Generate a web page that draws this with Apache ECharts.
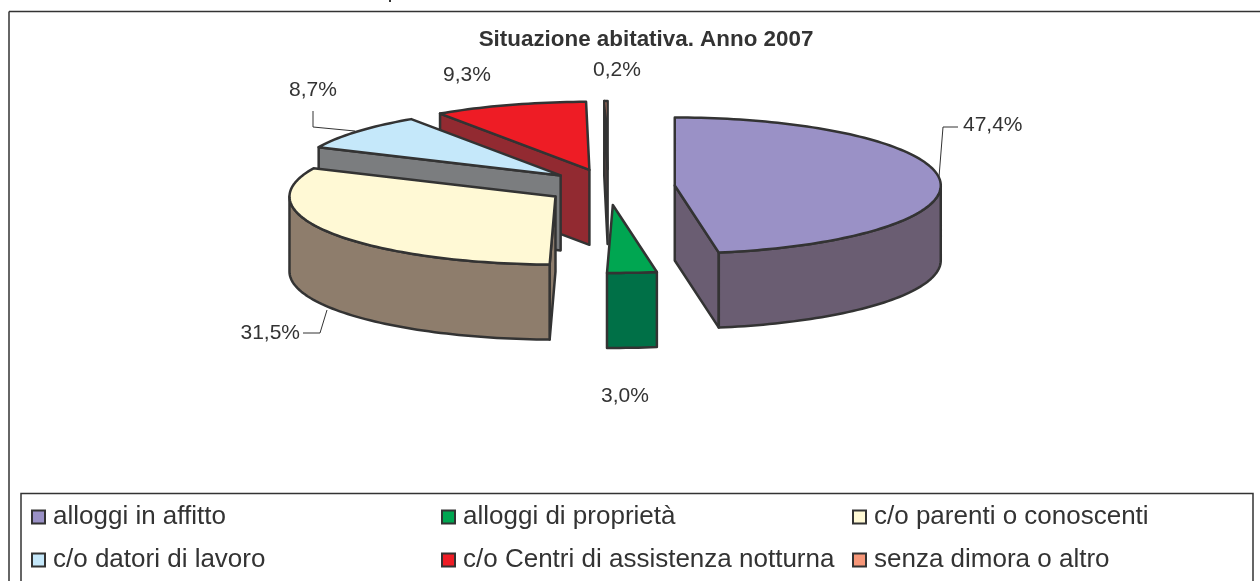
<!DOCTYPE html>
<html style="width:100%;height:100%">
<head>
    <meta charset="UTF-8">
    <title>Situazione abitativa</title>
    <script type="text/javascript" src="https://cdn.jsdelivr.net/npm/echarts@6/dist/echarts.min.js"></script>
</head>
<body style="margin:0;width:100%;height:100%;overflow:hidden;background:#fff">
    <div id="main" style="width:1260px;height:581px"></div>

    <script type="text/javascript">
        var categories = ['alloggi in affitto', 'alloggi di proprietà', 'c/o parenti o conoscenti', 'c/o datori di lavoro', 'c/o Centri di assistenza notturna', 'senza dimora o altro'];
        var values = [47.4, 3.0, 31.5, 8.7, 9.3, 0.2];
        var topColors = ['#9a91c6', '#00a651', '#fff9d5', '#c5e8fa', '#ee1c25', '#f79779'];
        var sideColors = ['#6a5d72', '#007047', '#8e7d6c', '#7b7d7f', '#922a31', '#5c4a48'];
        // red goes behind blue, blue behind yellow
        var drawOrder = [5, 6, 4, 2, 1, 3];

        // pie layout, in pixels
        var cx = 608, cy = 187, rx = 266, ry = 68, depth = 75;
        var explodeLeft = 62, explodeRight = 67, explodeY = 18;
        var ink = '#333333';

        var total = values.reduce(function (a, b) { return a + b; }, 0);
        var font = 'Liberation Sans, Arial, sans-serif';

        function pct(v) {
            return v.toFixed(1).replace('.', ',') + '%';
        }

        function arcPoints(ax, ay, t1, t2) {
            var pts = [];
            var n = Math.max(2, Math.ceil((t2 - t1) * 40));
            for (var i = 0; i <= n; i++) {
                var t = t1 + (t2 - t1) * i / n;
                pts.push([ax + rx * Math.sin(t), ay - ry * Math.cos(t)]);
            }
            return pts;
        }

        function face(points, color) {
            return {
                type: 'polygon',
                shape: { points: points },
                style: { fill: color, stroke: ink, lineWidth: 2.5, lineJoin: 'round' }
            };
        }

        function down(points) {
            return points.map(function (p) { return [p[0], p[1] + depth]; });
        }

        function renderSlice(idx) {
            return function (params, api) {
                var before = api.value(0);
                var value = api.value(1);
                var t1 = before / total * Math.PI * 2;
                var t2 = (before + value) / total * Math.PI * 2;
                var mid = (t1 + t2) / 2;
                var sm = Math.sin(mid);
                var ax = cx + sm * (sm < 0 ? explodeLeft : explodeRight);
                var ay = cy - Math.cos(mid) * explodeY;
                var apex = [ax, ay];
                var kids = [];

                // radial walls that face the viewer
                [t1, t2].forEach(function (t, k) {
                    var s = Math.sin(t);
                    if ((k === 0 && s < -0.001) || (k === 1 && s > 0.001)) {
                        var edge = [ax + rx * s, ay - ry * Math.cos(t)];
                        kids.push(face([apex, edge, [edge[0], edge[1] + depth], [ax, ay + depth]], sideColors[idx]));
                    }
                });
                // rim, front half of the ellipse only
                var a = Math.max(t1, Math.PI / 2), b = Math.min(t2, Math.PI * 1.5);
                if (b > a) {
                    var rim = arcPoints(ax, ay, a, b);
                    kids.push(face(rim.concat(down(rim).reverse()), sideColors[idx]));
                }
                kids.push(face([apex].concat(arcPoints(ax, ay, t1, t2)), topColors[idx]));
                return { type: 'group', children: kids };
            };
        }

        var running = 0;
        var series = categories.map(function (name, i) {
            var s = {
                type: 'custom',
                name: name,
                coordinateSystem: 'none',
                silent: true,
                z: drawOrder[i],
                itemStyle: { color: topColors[i] },
                renderItem: renderSlice(i),
                data: [[running, values[i]]]
            };
            running += values[i];
            return s;
        });

        function valueLabel(i, x, y, align) {
            return {
                type: 'text', x: x, y: y, z: 20,
                style: { text: pct(values[i]), font: '21px ' + font, fill: ink, align: align, verticalAlign: 'middle' }
            };
        }

        function leader(points) {
            return {
                type: 'polyline', z: 20,
                shape: { points: points },
                style: { stroke: ink, lineWidth: 1, fill: null }
            };
        }

        function legendColumn(names, left) {
            return {
                left: left, top: 504, orient: 'vertical', padding: 0, itemGap: 17,
                itemWidth: 13, itemHeight: 13, icon: 'rect', selectedMode: false,
                itemStyle: { borderColor: ink, borderWidth: 2 },
                textStyle: { fontFamily: font, fontSize: 26, color: ink, padding: [0, 0, 0, 3], lineHeight: 24 },
                data: names
            };
        }

        var option = {
            animation: false,
            backgroundColor: '#ffffff',
            title: {
                text: 'Situazione abitativa. Anno 2007',
                left: 641, top: 24, textAlign: 'center',
                textStyle: { fontFamily: font, fontSize: 22.4, fontWeight: 'bold', color: ink }
            },
            legend: [
                legendColumn([categories[0], categories[3]], 31),
                legendColumn([categories[1], categories[4]], 441),
                legendColumn([categories[2], categories[5]], 852)
            ],
            graphic: [
                { type: 'line', shape: { x1: 9, y1: 11.5, x2: 1260, y2: 11.5 }, style: { stroke: ink, lineWidth: 1.5 } },
                { type: 'line', shape: { x1: 9, y1: 11.5, x2: 9, y2: 581 }, style: { stroke: ink, lineWidth: 1.5 } },
                { type: 'line', shape: { x1: 390, y1: 0, x2: 390, y2: 2 }, style: { stroke: ink, lineWidth: 2 } },
                { type: 'rect', shape: { x: 21, y: 493.5, width: 1232, height: 100 }, style: { fill: '#ffffff', stroke: ink, lineWidth: 1.5 } },
                leader([[939, 177], [943, 127], [958, 127]]),
                leader([[327, 310], [320, 333], [303, 333]]),
                leader([[355, 131], [313, 127], [313, 111]]),
                valueLabel(0, 963, 125, 'left'),
                valueLabel(1, 601, 396, 'left'),
                valueLabel(2, 300, 333, 'right'),
                valueLabel(3, 289, 90, 'left'),
                valueLabel(4, 443, 75, 'left'),
                valueLabel(5, 593, 70, 'left')
            ],
            series: series
        };

        var myChart = echarts.init(document.getElementById('main'));
        myChart.setOption(option);
    </script>
</body>
</html>
